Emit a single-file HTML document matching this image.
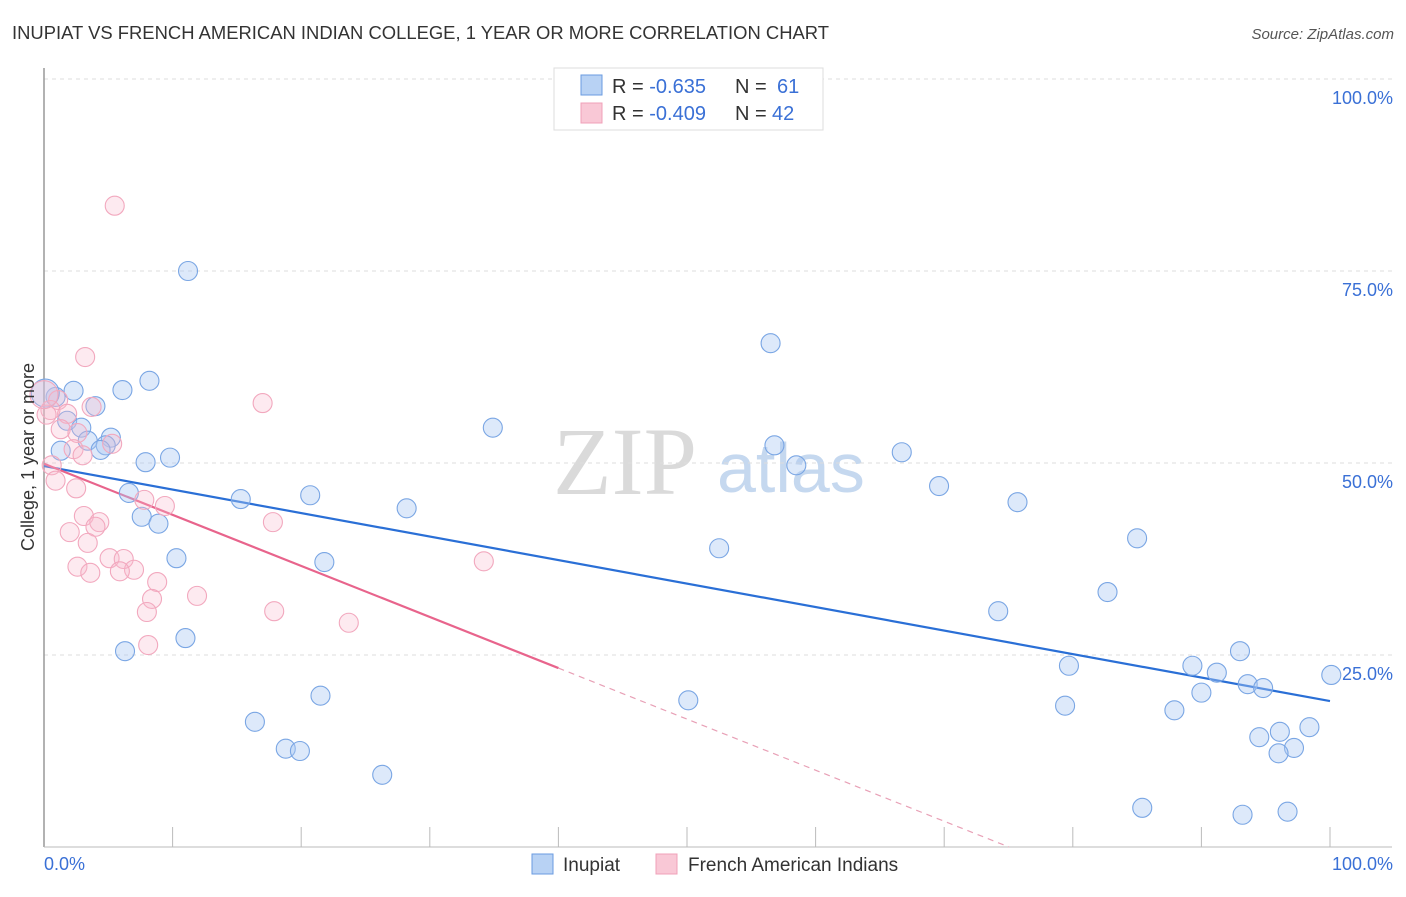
<!DOCTYPE html>
<html><head><meta charset="utf-8"><style>
body{margin:0;background:#fff;font-family:"Liberation Sans",sans-serif;}
</style></head><body>
<svg id="chart" width="1406" height="892" xmlns="http://www.w3.org/2000/svg" style="font-family:'Liberation Sans',sans-serif">
<text x="12" y="39" font-size="18" fill="#333" textLength="817" lengthAdjust="spacingAndGlyphs">INUPIAT VS FRENCH AMERICAN INDIAN COLLEGE, 1 YEAR OR MORE CORRELATION CHART</text>
<text x="1394" y="39" font-size="15" fill="#555" text-anchor="end" font-style="italic">Source: ZipAtlas.com</text>
<g>
<text x="553" y="494" font-size="96" fill="#dadada" style="font-family:'Liberation Serif',serif">ZIP</text>
<text x="717" y="492" font-size="70" fill="#c5d8ef">atlas</text>
</g>
<g id="grid"></g>
<g id="axes"></g>
<g id="lines"></g>
<g id="pts"></g>
<g>
<rect x="554" y="68" width="269" height="62" fill="#fff" stroke="#ddd"/>
<rect x="581" y="75" width="21" height="20" fill="#b8d2f4" stroke="#6a9be0"/>
<rect x="581" y="103" width="21" height="20" fill="#f9c8d6" stroke="#f0a0b8"/>
<text x="612" y="93" font-size="20" fill="#333">R = <tspan fill="#3a70d6"> -0.635</tspan><tspan x="735">N = </tspan><tspan fill="#3a70d6" x="777">61</tspan></text>
<text x="612" y="120" font-size="20" fill="#333">R = <tspan fill="#3a70d6">-0.409</tspan><tspan x="735">N = </tspan><tspan fill="#3a70d6" x="772">42</tspan></text>
</g>
<g>
<rect x="532" y="854" width="21" height="20" fill="#b8d2f4" stroke="#6a9be0"/>
<text x="563" y="871" font-size="19" fill="#333">Inupiat</text>
<rect x="656" y="854" width="21" height="20" fill="#f9c8d6" stroke="#f0a0b8"/>
<text x="688" y="871" font-size="19" fill="#333">French American Indians</text>
</g>
<text transform="translate(34,457) rotate(-90)" font-size="18" fill="#333" text-anchor="middle">College, 1 year or more</text>
</svg>
<script>
const blueX=[11.2,56.5,8.2,6.1,2.3,0.9,4.0,1.8,2.9,34.9,5.2,3.4,56.8,4.8,4.4,1.3,66.7,9.8,7.9,58.5,69.6,6.6,20.7,15.3,75.7,28.2,7.6,8.9,85.0,52.5,10.3,21.8,82.7,74.2,11.0,6.3,93.0,89.3,79.7,91.2,100.1,93.6,94.8,90.0,21.5,50.1,79.4,87.9,16.4,98.4,96.1,94.5,18.8,19.9,97.2,96.0,26.3,85.4,96.7,93.2,0.1];
const blueY=[75.0,65.6,60.7,59.5,59.4,58.6,57.4,55.5,54.6,54.6,53.3,52.9,52.3,52.3,51.7,51.6,51.4,50.7,50.1,49.7,47.0,46.1,45.8,45.3,44.9,44.1,43.0,42.1,40.2,38.9,37.6,37.1,33.2,30.7,27.2,25.5,25.5,23.6,23.6,22.7,22.4,21.2,20.7,20.1,19.7,19.1,18.4,17.8,16.3,15.6,15.0,14.3,12.8,12.5,12.9,12.2,9.4,5.1,4.6,4.2,59.1];
const pinkX=[5.5,3.2,17.0,1.1,0.5,1.8,0.2,3.7,1.3,2.6,5.3,2.3,3.0,0.6,0.9,2.5,7.8,9.4,17.8,3.1,4.3,4.0,2.0,3.4,34.2,5.1,6.2,7.0,5.9,2.6,3.6,8.8,11.9,8.4,8.0,17.9,23.7,8.1,0.0];
const pinkY=[83.5,63.8,57.8,58.2,56.9,56.4,56.3,57.3,54.4,53.9,52.5,51.8,51.0,49.7,47.7,46.7,45.2,44.4,42.3,43.1,42.3,41.7,41.0,39.6,37.2,37.6,37.5,36.1,35.9,36.5,35.7,34.5,32.7,32.3,30.6,30.7,29.2,26.3,58.9];
const blueTrend=[49.6,19.0];   // y at x=0 and x=100
const pinkTrend=[49.9,-0.665]; // intercept, slope
const pinkSolidEnd=40;
const yTicks=[25,50,75,100];
const yTickLabels=["25.0%","50.0%","75.0%","100.0%"];
const xTicks=[10,20,30,40,50,60,70,80,90,100];

const NS="http://www.w3.org/2000/svg";
const sx=v=>44+v*12.86, sy=v=>847-v*7.68;
function mk(tag,attrs,parent){const e=document.createElementNS(NS,tag);for(const k in attrs)e.setAttribute(k,attrs[k]);document.getElementById(parent).appendChild(e);return e;}

yTicks.forEach((t,i)=>{
  const g=mk('line',{x1:44,x2:1392,y1:sy(t),y2:sy(t),stroke:'#ddd','stroke-dasharray':'4,4'},'grid');
  
  
  const l=mk('text',{x:1393,y:sy(t)+25,'font-size':18,fill:'#3a70d6','text-anchor':'end'},'grid');
  l.textContent=yTickLabels[i];
  
  
});
const ya=mk('line',{x1:44,x2:44,y1:68,y2:847,stroke:'#999','stroke-width':1.5},'axes');


const xa=mk('line',{x1:44,x2:1392,y1:847,y2:847,stroke:'#bbb'},'axes');


xTicks.forEach(t=>{
  const tk=mk('line',{x1:sx(t),x2:sx(t),y1:827,y2:847,stroke:'#bbb'},'axes');
  
  
});
const x0=mk('text',{x:44,y:870,'font-size':18,fill:'#3a70d6'},'axes');x0.textContent='0.0%';


const x1=mk('text',{x:1393,y:870,'font-size':18,fill:'#3a70d6','text-anchor':'end'},'axes');x1.textContent='100.0%';



blueX.forEach((x,i)=>{
  const c=mk('circle',{cx:sx(x),cy:sy(blueY[i]),r:(i===blueX.length-1?14:9.5),fill:'rgba(170,200,242,0.4)',stroke:'#7aa6e4','stroke-width':1.1},'pts');
  
  
});
pinkX.forEach((x,i)=>{
  const c=mk('circle',{cx:sx(x),cy:sy(pinkY[i]),r:(i===pinkX.length-1?14:9.5),fill:'rgba(248,186,205,0.3)',stroke:'#f2a8be','stroke-width':1.1},'pts');
  
  
});
const bl=mk('line',{x1:sx(0),y1:sy(blueTrend[0]),x2:sx(100),y2:sy(blueTrend[1]),stroke:'#2a6fd6','stroke-width':2.2},'lines');


const pf=x=>pinkTrend[0]+pinkTrend[1]*x;
const pl=mk('line',{x1:sx(0),y1:sy(pf(0)),x2:sx(pinkSolidEnd),y2:sy(pf(pinkSolidEnd)),stroke:'#e8648c','stroke-width':2.2},'lines');


const xEnd=-pinkTrend[0]/pinkTrend[1];
const pd=mk('line',{x1:sx(pinkSolidEnd),y1:sy(pf(pinkSolidEnd)),x2:sx(xEnd),y2:sy(0),stroke:'#e8a0b6','stroke-width':1.2,'stroke-dasharray':'6,5'},'lines');


</script>
</body></html>
